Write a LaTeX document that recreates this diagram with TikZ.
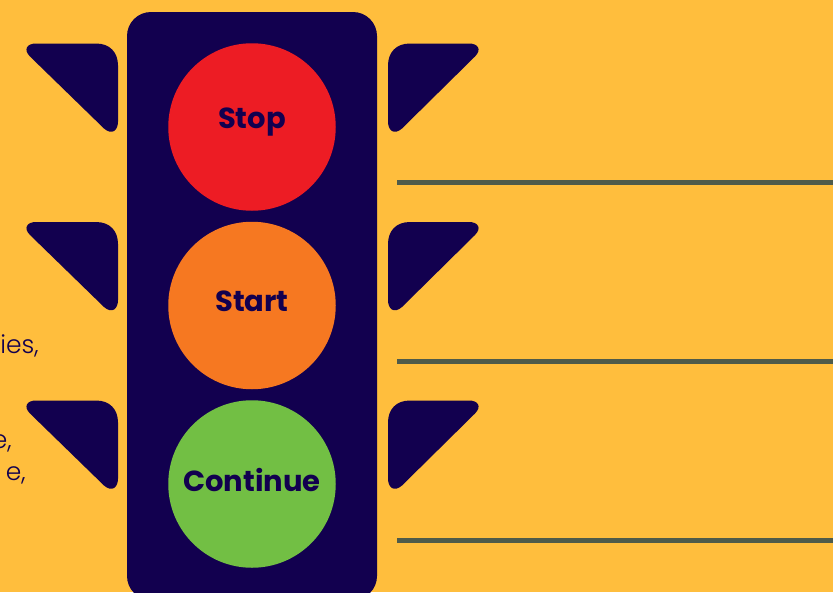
\documentclass[tikz,border=0pt]{standalone}
\usepackage{fontspec}
\setmainfont{Poppins Light}[BoldFont={Poppins Bold}]
\definecolor{bgc}{HTML}{FFBE3D}
\definecolor{navy}{HTML}{12004F}
\definecolor{redc}{HTML}{ED1C24}
\definecolor{orangec}{HTML}{F67821}
\definecolor{greenc}{HTML}{72BF44}
\definecolor{linec}{HTML}{4F5B4A}
\tikzset{
  lamp/.style={circle,draw=none,minimum size=167.5pt,inner sep=0pt},
  lamptext/.style={text=navy,font=\fontsize{29}{29}\selectfont\bfseries,inner sep=0pt,anchor=base},
  sidetext/.style={text=navy,font=\fontsize{25}{25}\selectfont,inner sep=0pt,anchor=base east},
  rule/.style={draw=linec,line width=5pt},
  wing/.style={fill=navy,draw=none}
}
\newcommand{\leftwing}[1]{\fill[wing,shift={(0,#1)}] (36,0) -- (96,0) .. controls (110,0) and (118,9) .. (118,22) -- (118,78) .. controls (118,87) and (112,92) .. (104,85) -- (30,13) .. controls (23,6) and (27,0) .. (36,0) -- cycle;}
\newcommand{\rightwing}[1]{\fill[wing,shift={(0,#1)}] (469,0) -- (410,0) .. controls (396,0) and (388,9) .. (388,22) -- (388,78) .. controls (388,87) and (394,92) .. (402,85) -- (475,13) .. controls (482,6) and (478,0) .. (469,0) -- cycle;}
\begin{document}
\begin{tikzpicture}[x=1pt,y=-1pt]
\useasboundingbox (0,0) rectangle (833,592);
\clip (0,0) rectangle (833,592);
\fill[bgc] (0,0) rectangle (833,592);
\node[sidetext] (t1) at (39,353) {ies,};
\node[sidetext] (t2) at (12,448) {e,};
\node[sidetext] (t3) at (26,480) {e,};
\fill[navy,rounded corners=24pt] (127,12) rectangle (377,600);
\leftwing{43.5}\leftwing{222}\leftwing{400.5}
\rightwing{43.5}\rightwing{222}\rightwing{400.5}
\node[lamp,fill=redc] (stop) at (252,127) {};
\node[lamp,fill=orangec] (start) at (252,305.5) {};
\node[lamp,fill=greenc] (cont) at (252,484) {};
\node[lamptext] at (252,128) {Stop};
\node[lamptext] at (252,311) {Start};
\node[lamptext] at (252,491) {Continue};
\coordinate (a1) at (397,182.5); \coordinate (b1) at (833,182.5);
\coordinate (a2) at (397,361); \coordinate (b2) at (833,361);
\coordinate (a3) at (397,540); \coordinate (b3) at (833,540);
\draw[rule] (a1) -- (b1);
\draw[rule] (a2) -- (b2);
\draw[rule] (a3) -- (b3);
\end{tikzpicture}
\end{document}
